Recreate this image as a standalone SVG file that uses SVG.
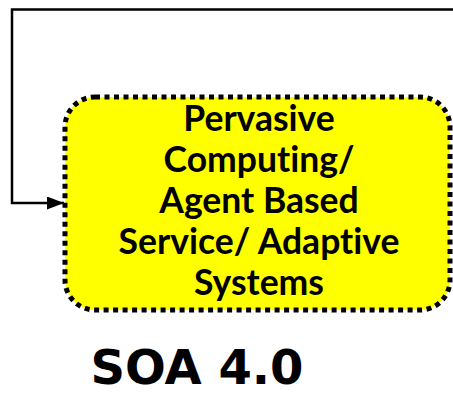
<svg xmlns="http://www.w3.org/2000/svg" width="453" height="396" viewBox="0 0 453 396">
<style>
.conn{fill:none;stroke:#000;stroke-width:2.5}
.box{fill:#ffff00;stroke:#000;stroke-width:5;stroke-dasharray:5 4.5}
.lbl{font-family:Lato,"Open Sans",sans-serif;font-weight:700;font-size:35.5px;fill:#000;text-anchor:middle;font-variant-ligatures:none}
.title{font-family:"DejaVu Sans",sans-serif;font-weight:700;font-size:48px;fill:#000;text-anchor:middle}
</style>
<defs>
<marker id="arr" viewBox="0 0 17 13" refX="17" refY="6.5" markerWidth="17" markerHeight="13" markerUnits="userSpaceOnUse" orient="auto">
<path d="M0,0 L17,6.5 L0,13 Z" fill="#000"/>
</marker>
</defs>
<g id="node-pervasive">
<rect class="box" x="65" y="97" width="385" height="213" rx="30" ry="30"/>
<text class="lbl" x="259" y="131">Pervasive</text>
<text class="lbl" x="259" y="172">Computing/</text>
<text class="lbl" x="259" y="213">Agent Based</text>
<text class="lbl" x="259" y="254">Service/ Adaptive</text>
<text class="lbl" x="259" y="295">Systems</text>
</g>
<g id="node-title">
<text class="title" x="197" y="384">SOA 4.0</text>
</g>
<g id="connectors">
<path class="conn" d="M453,9.5 H12 V203 H64" marker-end="url(#arr)"/>
</g>
</svg>
